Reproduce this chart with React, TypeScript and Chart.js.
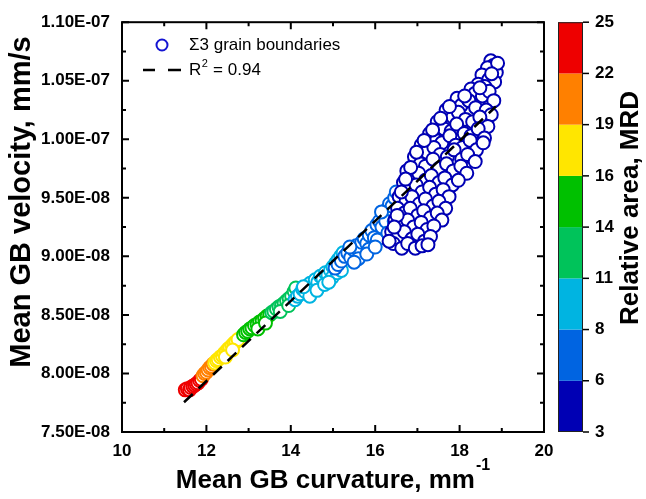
import React, { useEffect, useRef } from "react";
import { Chart, registerables } from "chart.js";

Chart.register(...registerables);

// ---------------- DATA ----------------
// Mean GB curvature (mm^-1)
const curvature = [
  // red
  11.50, 11.55, 11.60, 11.63, 11.68, 11.72, 11.76, 11.80, 11.84, 11.88,
  // orange
  11.92, 11.96, 12.00, 12.04, 12.08, 12.12, 12.16,
  // yellow
  12.20, 12.24, 12.28, 12.33, 12.38, 12.42, 12.47, 12.52, 12.56, 12.61, 12.66, 12.70, 12.75, 12.45, 12.62,
  // green
  12.88, 12.93, 12.98, 13.03, 13.08, 13.14, 13.20, 13.26, 13.32, 13.38, 13.44, 13.50, 13.22, 13.40,
  // medium green
  13.55, 13.60, 13.66, 13.72, 13.78, 13.84, 13.90, 13.96, 14.02, 14.08, 13.75, 13.95, 14.12,
  // cyan
  14.10, 14.16, 14.22, 14.28, 14.34, 14.40, 14.46, 14.52, 14.58, 14.64, 14.70, 14.76, 14.82, 14.88, 14.94,
  15.00, 15.06, 15.12, 15.18, 15.24, 14.45, 14.62, 14.80, 14.98, 15.10, 14.30, 14.90, 15.20,
  // blue
  15.05, 15.12, 15.20, 15.28, 15.35, 15.42, 15.48, 15.55, 15.62, 15.68, 15.74, 15.80, 15.86, 15.92, 15.98,
  16.04, 16.10, 16.16, 16.22, 16.28, 16.34, 16.40, 16.46, 15.60, 15.85, 16.05, 16.25, 15.40, 16.15, 16.50,
  15.50, 15.80, 16.00, 16.30, 16.45,
  // dark blue
  18.74, 18.80, 18.87, 18.66, 18.90,
  18.53, 18.69, 18.83, 18.44, 18.60, 18.76,
  18.27, 18.36, 18.54, 18.70, 18.81, 18.48,
  17.94, 18.04, 18.22, 18.38, 18.63, 18.75, 18.12,
  17.68, 17.84, 17.97, 18.14, 18.31, 18.48, 18.67, 17.76,
  17.47, 17.63, 17.80, 17.93, 18.11, 18.27, 18.44, 18.59, 17.55,
  17.29, 17.45, 17.58, 17.77, 17.91, 18.07, 18.25, 18.40, 18.56, 17.36,
  17.09, 17.22, 17.39, 17.54, 17.71, 17.87, 18.05, 18.19, 18.37, 17.16,
  16.93, 17.07, 17.19, 17.37, 17.51, 17.69, 17.85, 18.03, 18.17, 16.98,
  16.75, 16.91, 17.03, 17.19, 17.33, 17.51, 17.65, 17.83, 17.97, 16.84,
  16.67, 16.79, 16.97, 17.11, 17.29, 17.43, 17.61, 17.75, 16.72,
  16.57, 16.73, 16.87, 17.05, 17.19, 17.37, 17.51, 17.67, 16.62,
  16.53, 16.69, 16.83, 17.01, 17.15, 17.31, 17.47, 17.58,
  16.47, 16.59, 16.77, 16.91, 17.09, 17.23, 17.39, 16.52,
  16.39, 16.55, 16.69, 16.87, 17.01, 17.17, 17.31, 16.45,
  16.43, 16.63, 16.77, 16.95, 17.11, 16.33, 17.25,
];

// Mean GB velocity, in units of 1E-08 mm/s
const VELOCITY_UNIT = 1e-8;
const velocity = [
  // red
  7.86, 7.87, 7.86, 7.88, 7.89, 7.90, 7.91, 7.92, 7.94, 7.95,
  // orange
  7.98, 8.00, 8.01, 8.03, 8.05, 8.06, 8.08,
  // yellow
  8.09, 8.11, 8.12, 8.14, 8.15, 8.17, 8.19, 8.21, 8.22, 8.24, 8.26, 8.27, 8.29, 8.14, 8.20,
  // green
  8.33, 8.35, 8.36, 8.38, 8.39, 8.41, 8.42, 8.44, 8.45, 8.47, 8.49, 8.50, 8.38, 8.43,
  // medium green
  8.52, 8.53, 8.55, 8.57, 8.58, 8.60, 8.62, 8.64, 8.66, 8.70, 8.53, 8.58, 8.73,
  // cyan
  8.63, 8.66, 8.68, 8.72, 8.70, 8.75, 8.77, 8.74, 8.80, 8.78, 8.83, 8.81, 8.86, 8.84, 8.88,
  8.91, 8.94, 8.97, 9.00, 9.03, 8.66, 8.71, 8.76, 8.82, 8.86, 8.74, 8.78, 8.88,
  // blue
  8.90, 8.93, 8.96, 9.00, 9.03, 8.99, 9.06, 9.09, 9.05, 9.12, 9.15, 9.11, 9.18, 9.22, 9.16,
  9.27, 9.30, 9.25, 9.36, 9.40, 9.45, 9.43, 9.50, 8.98, 9.06, 9.14, 9.30, 9.08, 9.38, 9.55,
  8.95, 9.02, 9.08, 9.20, 9.30,
  // dark blue
  10.67, 10.63, 10.57, 10.61, 10.65,
  10.55, 10.51, 10.49, 10.47, 10.45, 10.56,
  10.43, 10.39, 10.37, 10.41, 10.33, 10.44,
  10.35, 10.29, 10.33, 10.27, 10.25, 10.21, 10.37,
  10.25, 10.19, 10.23, 10.17, 10.15, 10.19, 10.11, 10.28,
  10.15, 10.09, 10.07, 10.13, 10.05, 10.03, 10.09, 10.01, 10.18,
  10.05, 9.99, 9.97, 10.03, 9.95, 9.93, 9.99, 9.91, 9.97, 10.08,
  9.95, 9.89, 9.93, 9.87, 9.85, 9.91, 9.83, 9.87, 9.81, 9.99,
  9.85, 9.79, 9.77, 9.83, 9.75, 9.79, 9.73, 9.77, 9.71, 9.89,
  9.73, 9.67, 9.71, 9.65, 9.69, 9.63, 9.67, 9.61, 9.65, 9.76,
  9.63, 9.57, 9.61, 9.55, 9.59, 9.53, 9.57, 9.51, 9.66,
  9.51, 9.47, 9.51, 9.45, 9.49, 9.43, 9.47, 9.41, 9.55,
  9.41, 9.37, 9.41, 9.35, 9.39, 9.33, 9.37, 9.31,
  9.31, 9.27, 9.31, 9.25, 9.29, 9.23, 9.26, 9.35,
  9.21, 9.17, 9.21, 9.15, 9.19, 9.13, 9.17, 9.25,
  9.11, 9.07, 9.11, 9.07, 9.09, 9.13, 9.10,
];

// Relative area (MRD) of each boundary
const relativeArea = [
  // red
  24.6, 24.2, 23.8, 23.9, 23.4, 23.1, 22.9, 22.6, 22.4, 22.2,
  // orange
  21.8, 21.4, 21.0, 20.6, 20.2, 19.8, 19.4,
  // yellow
  18.9, 18.7, 18.5, 18.3, 18.1, 17.9, 17.7, 17.5, 17.3, 17.1, 16.9, 16.7, 16.5, 17.8, 17.0,
  // green
  15.9, 15.8, 15.6, 15.5, 15.3, 15.2, 15.0, 14.9, 14.7, 14.6, 14.4, 14.2, 15.1, 14.5,
  // medium green
  13.8, 13.6, 13.3, 13.0, 12.8, 12.5, 12.2, 12.0, 11.7, 11.4, 12.9, 12.1, 11.2,
  // cyan
  10.9, 10.8, 10.6, 10.5, 10.4, 10.2, 10.0, 9.9, 9.8, 9.6, 9.5, 9.4, 9.2, 9.1, 9.0,
  8.8, 8.7, 8.5, 8.4, 8.2, 10.1, 9.7, 9.3, 8.9, 8.6, 10.3, 9.0, 8.4,
  // blue
  7.9, 7.8, 7.7, 7.6, 7.5, 7.4, 7.4, 7.3, 7.2, 7.1, 7.0, 6.9, 6.9, 6.8, 6.7,
  6.6, 6.5, 6.4, 6.4, 6.3, 6.2, 6.2, 6.1, 7.2, 6.9, 6.6, 6.3, 7.5, 6.5, 6.1,
  7.3, 6.9, 6.7, 6.3, 6.2,
  // dark blue
  3.3, 3.5, 3.4, 3.6, 3.2,
  3.8, 3.5, 3.7, 4.1, 3.9, 3.4,
  4.2, 3.9, 4.4, 3.6, 4.0, 3.7,
  4.6, 4.3, 4.1, 4.5, 3.8, 4.2, 4.0,
  4.8, 4.4, 4.7, 4.2, 4.9, 4.0, 4.5, 4.3,
  5.1, 4.6, 4.9, 4.3, 5.0, 4.7, 4.4, 4.8, 4.5,
  5.2, 4.8, 5.3, 4.6, 5.0, 4.5, 5.4, 4.9, 4.3, 5.1,
  5.3, 5.0, 4.7, 5.5, 4.9, 5.2, 4.6, 5.1, 4.8, 5.4,
  5.5, 5.1, 5.4, 4.8, 5.6, 5.0, 5.3, 4.7, 5.2, 5.7,
  5.6, 5.2, 5.7, 5.0, 5.4, 4.9, 5.5, 5.1, 4.8, 5.8,
  5.7, 5.3, 5.8, 5.1, 5.5, 5.0, 5.6, 5.2, 5.9,
  5.8, 5.4, 5.6, 5.2, 5.7, 5.3, 5.5, 5.1, 5.9,
  5.8, 5.5, 5.9, 5.4, 5.6, 5.3, 5.7, 5.2,
  5.9, 5.6, 5.8, 5.5, 5.7, 5.4, 5.6, 5.9,
  5.9, 5.7, 5.8, 5.6, 5.9, 5.5, 5.8, 5.7,
  5.9, 5.8, 5.9, 5.7, 5.8, 5.9, 5.6,
];

// Linear fit (R^2 = 0.94) end points
const fitCurvature = [11.47, 18.86];
const fitVelocity = [7.754, 10.28]; // x 1E-08

// Colour bar
const colorBarEdges = [3, 6, 8, 11, 14, 16, 19, 22, 25];
const colorBarColors = [
  "#0000B4", // 3-6
  "#0064E1", // 6-8
  "#00B4E1", // 8-11
  "#00C35A", // 11-14
  "#00C000", // 14-16
  "#FFE600", // 16-19
  "#FF8000", // 19-22
  "#EE0000", // 22-25
];

// Axis ticks
const xTicks = [10, 12, 14, 16, 18, 20];
const yTicks = [7.5e-8, 8.0e-8, 8.5e-8, 9.0e-8, 9.5e-8, 1.0e-7, 1.05e-7, 1.1e-7];

const xTitle = "Mean GB curvature, mm";
const xTitleSup = "-1";
const yTitle = "Mean GB velocity, mm/s";
const colorBarTitle = "Relative area, MRD";
const legendSeries = "\u03A33 grain boundaries";
const legendFit = "= 0.94";

// --------------------------------------
const FONT = '"Liberation Sans", Arial, Helvetica, sans-serif';

function colorFor(a: number): string {
  for (let i = 0; i < colorBarColors.length; i++) {
    if (a < colorBarEdges[i + 1]) return colorBarColors[i];
  }
  return colorBarColors[colorBarColors.length - 1];
}

function fmtSci(v: number): string {
  const [m, e] = v.toExponential(2).split("e");
  const n = parseInt(e, 10);
  return `${m}E${n < 0 ? "-" : "+"}${String(Math.abs(n)).padStart(2, "0")}`;
}

const decorPlugin = {
  id: "decor",
  afterDraw(chart: any) {
    const { ctx, chartArea: a, scales } = chart;
    const xs = scales.x;
    const ys = scales.y;
    ctx.save();

    // frame
    ctx.strokeStyle = "#000";
    ctx.lineWidth = 2;
    ctx.strokeRect(a.left, a.top, a.right - a.left, a.bottom - a.top);

    // ticks (inward, all four sides)
    const major = 7;
    const minor = 4;
    ctx.beginPath();
    xTicks.forEach((v, i) => {
      const px = xs.getPixelForValue(v);
      ctx.moveTo(px, a.bottom); ctx.lineTo(px, a.bottom - major);
      ctx.moveTo(px, a.top); ctx.lineTo(px, a.top + major);
      if (i < xTicks.length - 1) {
        const pm = xs.getPixelForValue((v + xTicks[i + 1]) / 2);
        ctx.moveTo(pm, a.bottom); ctx.lineTo(pm, a.bottom - minor);
        ctx.moveTo(pm, a.top); ctx.lineTo(pm, a.top + minor);
      }
    });
    yTicks.forEach((v, i) => {
      const py = ys.getPixelForValue(v);
      ctx.moveTo(a.left, py); ctx.lineTo(a.left + major, py);
      ctx.moveTo(a.right, py); ctx.lineTo(a.right - major, py);
      if (i < yTicks.length - 1) {
        const pm = ys.getPixelForValue((v + yTicks[i + 1]) / 2);
        ctx.moveTo(a.left, pm); ctx.lineTo(a.left + minor, pm);
        ctx.moveTo(a.right, pm); ctx.lineTo(a.right - minor, pm);
      }
    });
    ctx.stroke();

    // x title with superscript
    ctx.fillStyle = "#000";
    ctx.textBaseline = "alphabetic";
    ctx.font = `bold 26px ${FONT}`;
    const wMain = ctx.measureText(xTitle).width;
    ctx.font = `bold 16px ${FONT}`;
    const wSup = ctx.measureText(xTitleSup).width;
    const cx = (a.left + a.right) / 2;
    const x0 = cx - (wMain + wSup + 1) / 2;
    ctx.font = `bold 26px ${FONT}`;
    ctx.textAlign = "left";
    ctx.fillText(xTitle, x0, 488);
    ctx.font = `bold 16px ${FONT}`;
    ctx.fillText(xTitleSup, x0 + wMain + 1, 470);

    // y title
    ctx.save();
    ctx.translate(22, 202);
    ctx.rotate(-Math.PI / 2);
    ctx.font = `bold 29px ${FONT}`;
    ctx.textAlign = "center";
    ctx.textBaseline = "middle";
    ctx.fillText(yTitle, 0, 0);
    ctx.restore();

    // legend
    ctx.lineWidth = 2;
    ctx.strokeStyle = "#1414D2";
    ctx.fillStyle = "#fff";
    ctx.beginPath();
    ctx.arc(162, 45, 5.5, 0, Math.PI * 2);
    ctx.fill();
    ctx.stroke();
    ctx.fillStyle = "#000";
    ctx.font = `17px ${FONT}`;
    ctx.textAlign = "left";
    ctx.textBaseline = "middle";
    ctx.fillText(legendSeries, 189, 45);
    ctx.strokeStyle = "#000";
    ctx.lineWidth = 2.5;
    ctx.beginPath();
    ctx.moveTo(143, 70); ctx.lineTo(155, 70);
    ctx.moveTo(168, 70); ctx.lineTo(181, 70);
    ctx.stroke();
    ctx.fillText("R", 189, 70);
    const wR = ctx.measureText("R").width;
    ctx.font = `11px ${FONT}`;
    ctx.fillText("2", 189 + wR + 0.5, 64);
    const w2 = ctx.measureText("2").width;
    ctx.font = `17px ${FONT}`;
    ctx.fillText(" " + legendFit, 189 + wR + w2 + 1, 70);

    // colour bar
    const bx = 558;
    const bw = 25;
    const top = a.top;
    const bottom = a.bottom;
    const n = colorBarColors.length;
    const segH = (bottom - top) / n;
    for (let i = 0; i < n; i++) {
      ctx.fillStyle = colorBarColors[i];
      const yb = bottom - i * segH;
      ctx.fillRect(bx, yb - segH, bw, segH);
    }
    ctx.strokeStyle = "#222";
    ctx.lineWidth = 1;
    ctx.strokeRect(bx + 0.5, top + 0.5, bw - 1, bottom - top - 1);
    ctx.lineWidth = 1.5;
    ctx.strokeStyle = "#000";
    ctx.fillStyle = "#000";
    ctx.font = `bold 17px ${FONT}`;
    ctx.textAlign = "left";
    ctx.textBaseline = "middle";
    colorBarEdges.forEach((v, i) => {
      const yb = bottom - i * segH;
      ctx.beginPath();
      ctx.moveTo(bx + bw, yb);
      ctx.lineTo(bx + bw + 6, yb);
      ctx.stroke();
      ctx.fillText(String(v), bx + bw + 12, yb);
    });

    ctx.save();
    ctx.translate(631, 208);
    ctx.rotate(-Math.PI / 2);
    ctx.font = `bold 26px ${FONT}`;
    ctx.textAlign = "center";
    ctx.textBaseline = "middle";
    ctx.fillText(colorBarTitle, 0, 0);
    ctx.restore();

    ctx.restore();
  },
};

export default function App() {
  const ref = useRef<HTMLCanvasElement | null>(null);

  useEffect(() => {
    if (!ref.current) return;
    const points = curvature.map((x, i) => ({ x, y: velocity[i] * VELOCITY_UNIT }));
    const borderColors = relativeArea.map((a) => colorFor(a));
    const fitPoints = fitCurvature.map((x, i) => ({ x, y: fitVelocity[i] * VELOCITY_UNIT }));
    const tickFont = { family: FONT, size: 17, weight: "bold" as const };

    const chart = new Chart(ref.current, {
      type: "scatter",
      data: {
        datasets: [
          {
            type: "line",
            label: "fit",
            data: fitPoints,
            borderColor: "#000",
            borderWidth: 2.5,
            borderDash: [12, 8],
            pointRadius: 0,
            fill: false,
            showLine: true,
            order: 0,
          } as any,
          {
            label: "points",
            data: points,
            pointRadius: 6.5,
            pointBorderWidth: 2,
            pointBackgroundColor: "#fff",
            pointBorderColor: borderColors,
            showLine: false,
            order: 1,
          } as any,
        ],
      },
      options: {
        animation: false,
        responsive: false,
        maintainAspectRatio: false,
        layout: { padding: { left: 0, top: 19, right: 102, bottom: 0 } },
        plugins: { legend: { display: false }, tooltip: { enabled: false } },
        scales: {
          x: {
            type: "linear",
            min: 10,
            max: 20,
            afterBuildTicks: (s: any) => {
              s.ticks = xTicks.map((v) => ({ value: v }));
            },
            afterFit: (s: any) => {
              s.height = 67;
            },
            grid: { display: false, drawTicks: false },
            border: { display: false },
            ticks: { font: tickFont, color: "#000", padding: 9, maxRotation: 0, autoSkip: false },
          },
          y: {
            type: "linear",
            min: 7.5e-8,
            max: 1.1e-7,
            afterBuildTicks: (s: any) => {
              s.ticks = yTicks.map((v) => ({ value: v }));
            },
            afterFit: (s: any) => {
              s.width = 122;
            },
            grid: { display: false, drawTicks: false },
            border: { display: false },
            ticks: {
              font: tickFont,
              color: "#000",
              padding: 12,
              autoSkip: false,
              callback: (v: any) => fmtSci(Number(v)),
            },
          },
        },
      } as any,
      plugins: [decorPlugin],
    });
    return () => chart.destroy();
  }, []);

  return (
    <div style={{ position: "absolute", left: 0, top: 0, width: 646, height: 499, background: "#fff" }}>
      <canvas ref={ref} width={646} height={499} />
    </div>
  );
}
